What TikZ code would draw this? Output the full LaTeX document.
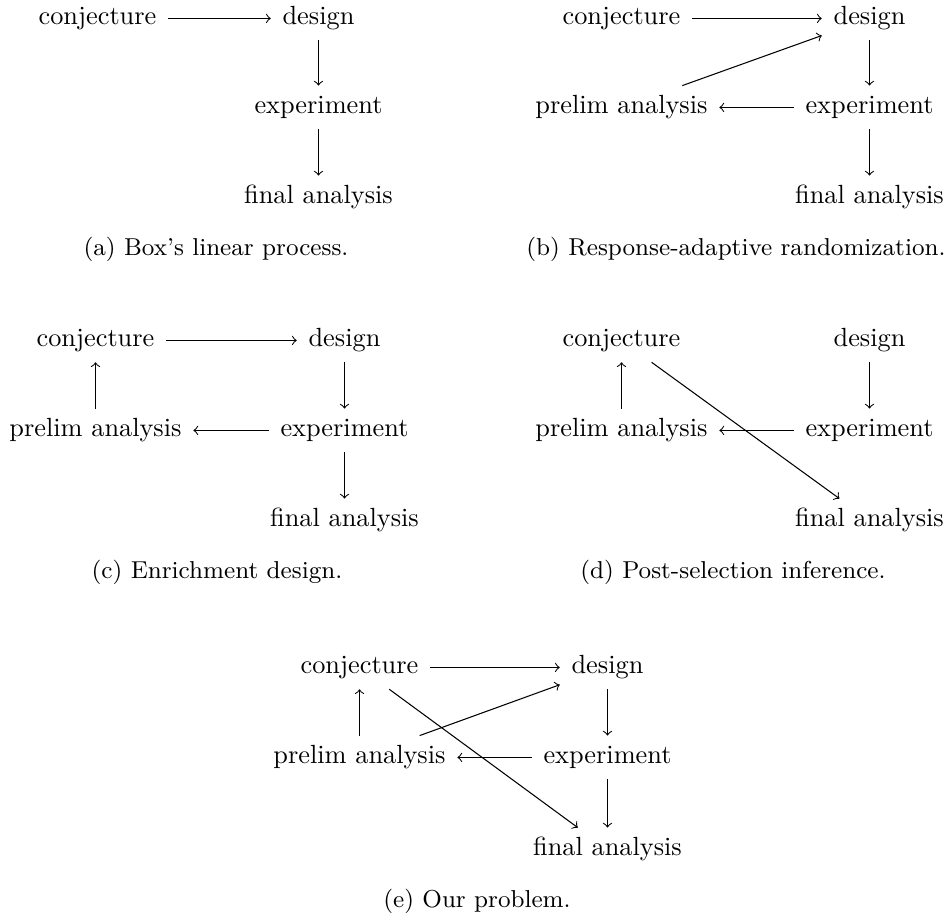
\documentclass[tikz,border=0pt]{standalone}
\usepackage{tikz}

\begin{document}
\begin{tikzpicture}[x=0.3802pt,y=-0.3802pt,
    cell/.style={anchor=base,inner xsep=1ex,inner ysep=0.85ex,text height=6.94pt,text depth=1.94pt},
    subcap/.style={anchor=base,font=\fontsize{9.3}{11.5}\selectfont}]
\useasboundingbox (0,0) rectangle (948,919);

% (a)
\node[cell] (aconj) at (97.5,25) {conjecture};
\node[cell] (ades) at (318.5,25) {design};
\node[cell] (aexp) at (318.5,114) {experiment};
\node[cell] (afin) at (318.5,204) {final analysis};
\draw[->] (aconj) -- (ades);
\draw[->] (ades) -- (aexp);
\draw[->] (aexp) -- (afin);
\node[subcap] (acap) at (216,256) {(a) Box's linear process.};

% (b)
\node[cell] (bconj) at (621.5,25) {conjecture};
\node[cell] (bdes) at (869.5,25) {design};
\node[cell] (bpre) at (621.5,114) {prelim analysis};
\node[cell] (bexp) at (869.5,114) {experiment};
\node[cell] (bfin) at (869.5,204) {final analysis};
\draw[->] (bconj) -- (bdes);
\draw[->] (bdes) -- (bexp);
\draw[->] (bexp) -- (bfin);
\draw[->] (bexp) -- (bpre);
\draw[->] (bpre) -- (bdes);
\node[subcap] (bcap) at (736,256) {(b) Response-adaptive randomization.};

% (c)
\node[cell] (cconj) at (95.5,347) {conjecture};
\node[cell] (cdes) at (344.5,347) {design};
\node[cell] (cpre) at (95.5,437) {prelim analysis};
\node[cell] (cexp) at (344.5,437) {experiment};
\node[cell] (cfin) at (344.5,527) {final analysis};
\draw[->] (cconj) -- (cdes);
\draw[->] (cdes) -- (cexp);
\draw[->] (cexp) -- (cpre);
\draw[->] (cpre) -- (cconj);
\draw[->] (cexp) -- (cfin);
\node[subcap] (ccap) at (217,579) {(c) Enrichment design.};

% (d)
\node[cell] (dconj) at (621.5,347) {conjecture};
\node[cell] (ddes) at (869.5,347) {design};
\node[cell] (dpre) at (621.5,437) {prelim analysis};
\node[cell] (dexp) at (869.5,437) {experiment};
\node[cell] (dfin) at (869.5,527) {final analysis};
\draw[->] (dpre) -- (dconj);
\draw[->] (ddes) -- (dexp);
\draw[->] (dexp) -- (dpre);
\draw[->] (dconj) -- (dfin);
\node[subcap] (dcap) at (733,579) {(d) Post-selection inference.};

% (e)
\node[cell] (econj) at (359.5,674) {conjecture};
\node[cell] (edes) at (607.5,674) {design};
\node[cell] (epre) at (359.5,764) {prelim analysis};
\node[cell] (eexp) at (607.5,764) {experiment};
\node[cell] (efin) at (607.5,856) {final analysis};
\draw[->] (econj) -- (edes);
\draw[->] (edes) -- (eexp);
\draw[->] (eexp) -- (efin);
\draw[->] (eexp) -- (epre);
\draw[->] (epre) -- (econj);
\draw[->] (epre) -- (edes);
\draw[->] (econj) -- (efin);
\node[subcap] (ecap) at (477,908) {(e) Our problem.};

\end{tikzpicture}
\end{document}
